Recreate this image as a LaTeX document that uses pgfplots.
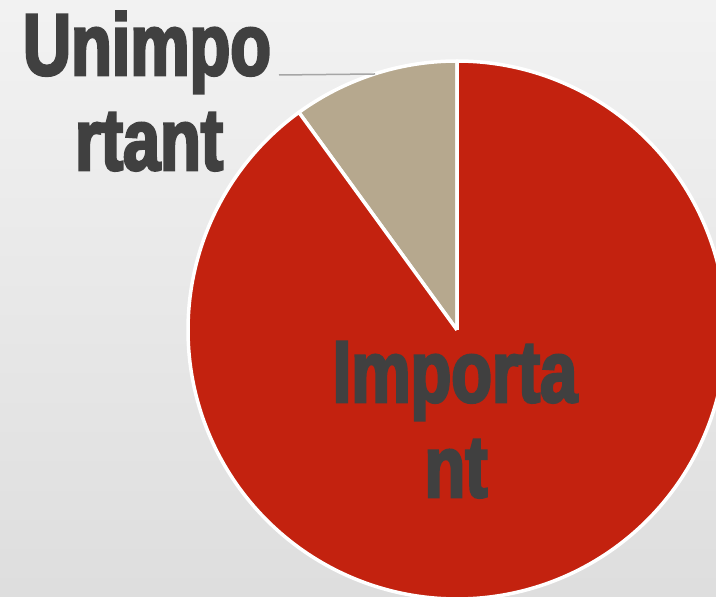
\documentclass[border=0pt]{standalone}
\usepackage{pgfplots}
\pgfplotsset{compat=1.18}
\usepackage{pgfplotstable}
\usepackage{fontspec}
\setmainfont{Liberation Sans}
\newfontfamily\labelfont[FakeStretch=0.76,FakeBold=3]{Liberation Sans Bold}
\definecolor{piered}{HTML}{C3220F}
\definecolor{pietan}{HTML}{B6A88E}
\definecolor{labtxt}{HTML}{404040}
\definecolor{leader}{HTML}{A6A6A6}
\pgfplotstableread{
label value
Unimportant 10
Important 90
}\piedata
\pgfplotstablegetelem{0}{value}\of\piedata\let\vA\pgfplotsretval
\pgfplotstablegetelem{1}{value}\of\piedata\let\vB\pgfplotsretval
\pgfmathsetmacro{\tot}{\vA+\vB}
\pgfmathsetmacro{\aA}{90}
\pgfmathsetmacro{\bA}{90+360*(\vA/\tot)}
\pgfmathsetmacro{\aB}{\bA}
\pgfmathsetmacro{\bB}{\aB+360*(\vB/\tot)}
\pgfmathsetmacro{\dA}{\aA-1}
\pgfmathsetmacro{\eA}{\bA+1}
\pgfmathsetmacro{\dB}{\aB-1}
\pgfmathsetmacro{\eB}{\bB+1}
\pgfmathtruncatemacro{\nA}{round(\eA-\dA+1)}
\pgfmathtruncatemacro{\nB}{round(\eB-\dB+1)}
\begin{document}
\begin{tikzpicture}
\begin{axis}[
  width=716bp, height=597bp, scale only axis,
  xmin=0, xmax=716, ymin=0, ymax=597,
  hide axis, clip=true,
]
\path[top color=black!5, bottom color=black!13] (rel axis cs:0,0) rectangle (rel axis cs:1,1);
% Unimportant slice
\addplot[fill=pietan, draw=white, line width=3.5bp, line join=round, samples=\nA, domain=\dA:\eA, variable=\t]
  ({ (\t<\aA-0.01 || \t>\bA+0.01) ? 457 : 457+269*cos(\t) }, { (\t<\aA-0.01 || \t>\bA+0.01) ? 267 : 267+269*sin(\t) });
% Important slice
\addplot[fill=piered, draw=white, line width=3.5bp, line join=round, samples=\nB, domain=\dB:\eB, variable=\t]
  ({ (\t<\aB-0.01 || \t>\bB+0.01) ? 457 : 457+269*cos(\t) }, { (\t<\aB-0.01 || \t>\bB+0.01) ? 267 : 267+269*sin(\t) });
% leader line
\addplot[leader, line width=1.5bp] coordinates {(279,522) (375,523)};
\node[anchor=base, text=labtxt, inner sep=0pt, font=\labelfont\fontsize{88}{95}\selectfont] at (axis cs:147,522) {Unimpo};
\node[anchor=base, text=labtxt, inner sep=0pt, font=\labelfont\fontsize{88}{95}\selectfont] at (axis cs:149,427) {rtant};
\node[anchor=base, text=labtxt, inner sep=0pt, font=\labelfont\fontsize{88}{95}\selectfont] at (axis cs:455,195) {Importa};
\node[anchor=base, text=labtxt, inner sep=0pt, font=\labelfont\fontsize{88}{95}\selectfont] at (axis cs:456,100) {nt};
\end{axis}
\pgfresetboundingbox
\useasboundingbox (current axis.south west) rectangle (current axis.north east);
\end{tikzpicture}
\end{document}
